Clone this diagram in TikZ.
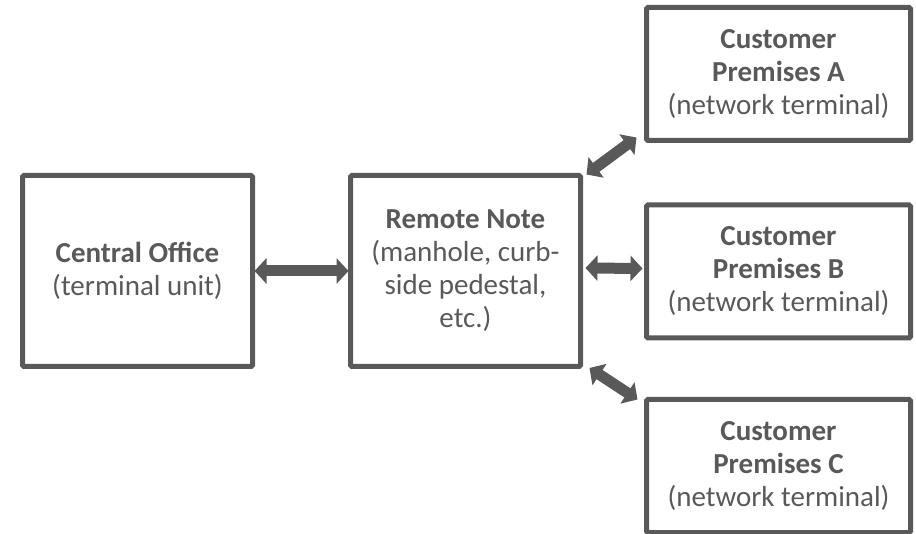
\documentclass[tikz,border=0pt]{standalone}
\usepackage{xcolor}
\usepackage{fontspec}
\setmainfont{Carlito}
\usepackage{tikz}
\usetikzlibrary{arrows.meta}

\definecolor{boxgray}{RGB}{89,89,89}

\begin{document}
\begin{tikzpicture}[x=1pt, y=-1pt,
      box/.style={rectangle, draw=boxgray, line width=5pt, rounded corners=1.5pt,
        text=boxgray, align=center, inner sep=0pt, outer sep=0pt,
        font=\fontsize{29}{33}\selectfont},
      bigbox/.style={box, minimum width=230pt, minimum height=191pt},
      custbox/.style={box, minimum width=264pt, minimum height=133pt},
      biarrow/.style={draw=boxgray, line width=11pt,
        {Triangle[width=25pt,length=12pt]}-{Triangle[width=25pt,length=12pt]}}
      ]
      \useasboundingbox (0,0) rectangle (916,534);
      \node[bigbox] (co) at (137.5,271) {\textbf{Central Office}\\(terminal unit)};
      \node[bigbox] (rn) at (465.5,271) {\textbf{Remote Note}\\(manhole, curb-\\side pedestal,\\etc.)};
      \node[custbox] (ca) at (778.5,74) {\textbf{Customer}\\\textbf{Premises A}\\(network terminal)};
      \node[custbox] (cb) at (778.5,271.5) {\textbf{Customer}\\\textbf{Premises B}\\(network terminal)};
      \node[custbox] (cc) at (778.5,466) {\textbf{Customer}\\\textbf{Premises C}\\(network terminal)};
      \draw[biarrow] ([xshift=2pt]co.east) -- ([xshift=-2pt]rn.west);
      \draw[biarrow] ([xshift=6pt,yshift=1pt]rn.north east) -- ([xshift=-10pt,yshift=3pt]ca.south west);
      \draw[biarrow] ([xshift=5pt,yshift=3pt]rn.east) -- ([xshift=-4pt,yshift=3pt]cb.west);
      \draw[biarrow] ([xshift=9pt,yshift=-1.5pt]rn.south east) -- ([xshift=-9pt]cc.north west);
    \end{tikzpicture}
\end{document}
